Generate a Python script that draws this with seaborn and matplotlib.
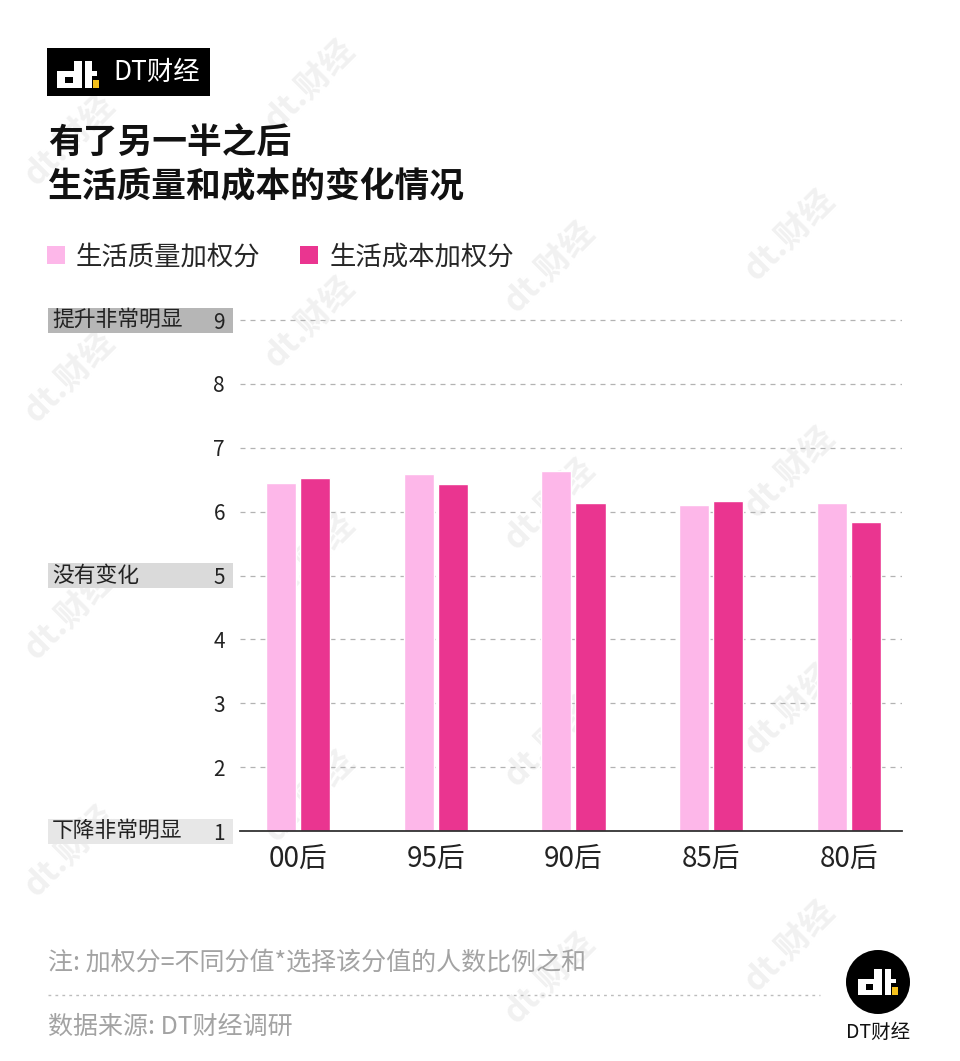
import matplotlib
matplotlib.use('Agg')
import numpy as np
import pandas as pd
import matplotlib.pyplot as plt
import seaborn as sns
from matplotlib.patches import Rectangle, Circle, Patch
from matplotlib.transforms import blended_transform_factory

# ---------------- data ----------------
generations = ['00后', '95后', '90后', '85后', '80后']
quality_scores = [6.45, 6.59, 6.64, 6.10, 6.13]
cost_scores = [6.53, 6.44, 6.14, 6.16, 5.84]
series_names = ['生活质量加权分', '生活成本加权分']
y_ticks = [1, 2, 3, 4, 5, 6, 7, 8, 9]
y_marks = [9, 5, 1]
y_mark_labels = ['提升非常明显', '没有变化', '下降非常明显']
y_mark_colors = ['#b6b6b6', '#dadada', '#e7e7e7']

title_lines = ['有了另一半之后', '生活质量和成本的变化情况']
note_text = '注: 加权分=不同分值*选择该分值的人数比例之和'
source_text = '数据来源: DT财经调研'
brand = 'DT财经'

light_pink = '#fdb7e9'
dark_pink = '#ea3590'

df = pd.DataFrame({
    'generation': generations * 2,
    'score': quality_scores + cost_scores,
    'series': [series_names[0]] * len(generations) + [series_names[1]] * len(generations),
})

# ---------------- figure ----------------
W, H = 960, 1061
sns.set_theme(style='white')
plt.rcParams['font.family'] = ['Noto Sans CJK SC', 'DejaVu Sans']

fig = plt.figure(figsize=(W / 100, H / 100), dpi=100)
fig.patch.set_facecolor('white')

bg = fig.add_axes([0, 0, 1, 1], zorder=0)
bg.set_xlim(0, W)
bg.set_ylim(H, 0)
bg.axis('off')

# watermarks (decorative)
wm_cols = [70, 310, 550, 790]
wm_base = [140, 85, 30, -2]
for cx, b in zip(wm_cols, wm_base):
    for k in range(6):
        cy = b + 237 * k
        if 55 < cy < H - 55:
            bg.text(cx, cy, 'dt.财经', rotation=45, fontsize=24, fontweight='bold',
                    color='#f1f1f1', ha='center', va='center', zorder=0)

ymin, ymax = 1, 9.02
unit_px = (831 - 320) / 8
top_px = 320 - (ymax - 9) * unit_px
ax = fig.add_axes([240 / W, 1 - 831 / H, 662 / W, (831 - top_px) / H], zorder=1)
ax.patch.set_alpha(0)

sns.barplot(data=df, x='generation', y='score', hue='series',
            palette=[light_pink, dark_pink], saturation=1,
            width=0.494, gap=0.117, legend=False, ax=ax, errorbar=None)

ax.set_xlim(-0.421, 4.385)
ax.set_ylim(ymin, ymax)
ax.set_axisbelow(True)
ax.yaxis.grid(True, color='#b3b3b3', linestyle=(0, (4, 4)), linewidth=0.9)
ax.xaxis.grid(False)
for s in ['left', 'right', 'top']:
    ax.spines[s].set_visible(False)
ax.spines['bottom'].set_color('#333333')
ax.spines['bottom'].set_linewidth(1.3)
ax.set_yticks(y_ticks)
ax.set_yticklabels([str(v) for v in y_ticks])
ax.tick_params(axis='y', length=0, pad=10.8, labelsize=15, labelcolor='#222222')
ax.tick_params(axis='x', length=0, pad=9, labelsize=20, labelcolor='#222222')
ax.set_xlabel('')
ax.set_ylabel('')

# grey label boxes on key ticks
trans = blended_transform_factory(fig.transFigure, ax.transData)
half = 12.5 / unit_px
for v, lab, c in zip(y_marks, y_mark_labels, y_mark_colors):
    r = Rectangle((48 / W, v - half), (233 - 48) / W, 2 * half, transform=trans,
                  facecolor=c, edgecolor='none', clip_on=False, zorder=0.2)
    ax.add_artist(r)
    ax.text(52 / W, v, lab, transform=trans, ha='left', va='center',
            fontsize=15.7, color='#222222', zorder=0.3)

# legend
handles = [Patch(facecolor=light_pink, edgecolor='none'),
           Patch(facecolor=dark_pink, edgecolor='none')]
fig.legend(handles=handles, labels=series_names, loc='center left',
           bbox_to_anchor=(47 / W, 1 - 257 / H), ncol=2, frameon=False,
           fontsize=19, handlelength=0.68, handleheight=0.68,
           handletextpad=0.42, columnspacing=1.5, borderaxespad=0, borderpad=0)

# title
fig.text(48 / W, 1 - 143.5 / H, title_lines[0], fontsize=25, fontweight='bold',
         ha='left', va='center', color='#111111')
fig.text(48 / W, 1 - 187 / H, title_lines[1], fontsize=25, fontweight='bold',
         ha='left', va='center', color='#111111')


def draw_dt(axx, x0, y0, s, fg='white', hole='black'):
    parts = [
        ((0, 10), 25, 17, fg),
        ((16.5, 0), 8.5, 27, fg),
        ((8, 16), 8, 6, hole),
        ((28, 0), 6.5, 27, fg),
        ((28, 10), 12, 5, fg),
        ((35.5, 19), 6.5, 8, '#f5c11c'),
    ]
    for (px, py), w, h, c in parts:
        axx.add_patch(Rectangle((x0 + px * s, y0 + py * s), w * s, h * s,
                                facecolor=c, edgecolor='none', zorder=5))


# top-left logo
bg.add_patch(Rectangle((47, 48), 163, 48, facecolor='black', edgecolor='none', zorder=4))
draw_dt(bg, 57, 61, 1.0)
bg.text(113, 72, brand, color='white', fontsize=19, ha='left', va='center', zorder=6)

# bottom-right logo
cxl, cyl, s = 878, 982, 0.95
bg.add_patch(Circle((cxl, cyl), 32, facecolor='black', edgecolor='none', zorder=4))
draw_dt(bg, cxl - 42 * s / 2, cyl - 27 * s / 2, s)
bg.text(cxl, 1032, brand, color='#111111', fontsize=14, ha='center', va='center', zorder=6)

# footer
bg.text(48, 963, note_text, fontsize=18, color='#a3a3a3', ha='left', va='center', zorder=3)
bg.plot([48, 820], [995, 995], color='#bdbdbd', linestyle=(0, (2, 3)), linewidth=1, zorder=3)
bg.text(48, 1027, source_text, fontsize=18, color='#a3a3a3', ha='left', va='center', zorder=3)

fig.savefig('out.png', dpi=100, facecolor='white')
